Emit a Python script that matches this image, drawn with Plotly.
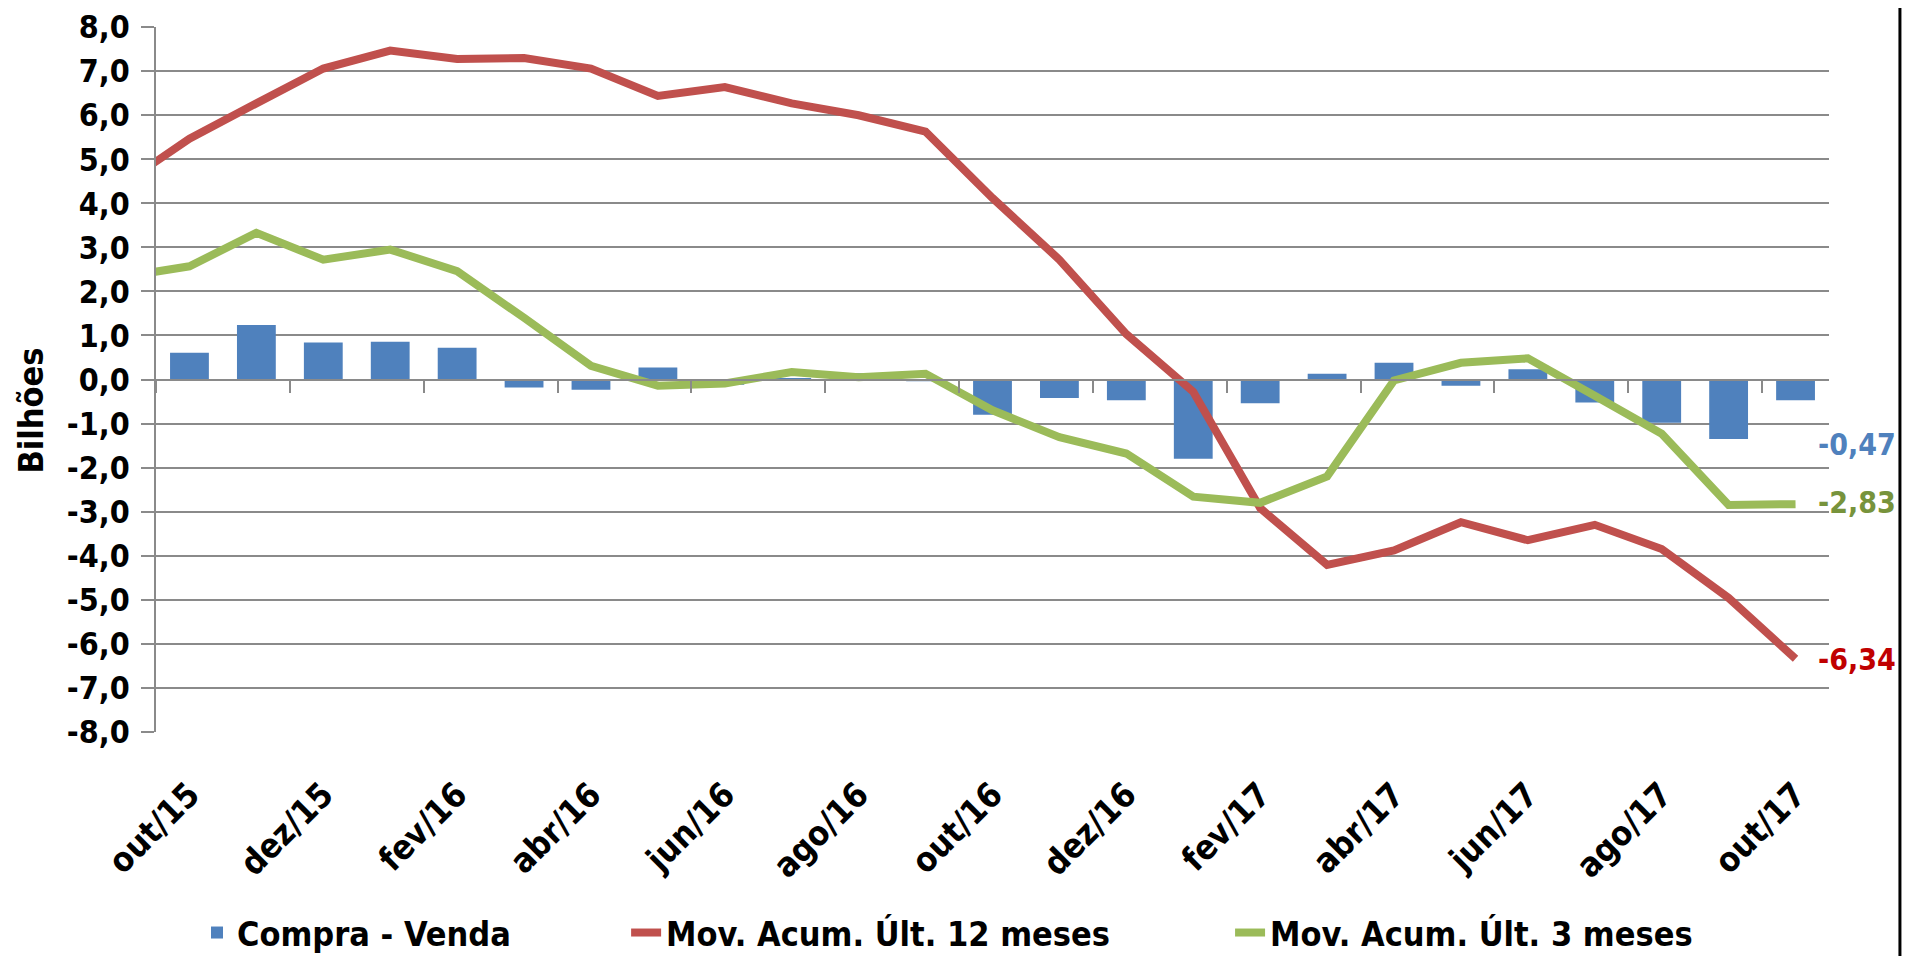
import plotly.graph_objects as go

# ---- data ----
months = ["set/15", "out/15", "nov/15", "dez/15", "jan/16", "fev/16", "mar/16", "abr/16",
          "mai/16", "jun/16", "jul/16", "ago/16", "set/16", "out/16", "nov/16", "dez/16",
          "jan/17", "fev/17", "mar/17", "abr/17", "mai/17", "jun/17", "jul/17", "ago/17",
          "set/17", "out/17"]
compra_venda = [None, 0.61, 1.24, 0.84, 0.86, 0.72, -0.18, -0.23, 0.27, -0.12, 0.03, 0.14,
                -0.04, -0.80, -0.42, -0.47, -1.80, -0.54, 0.13, 0.38, -0.14, 0.23, -0.52,
                -0.98, -1.35, -0.47]
mov12 = [4.43, 5.47, 6.27, 7.06, 7.47, 7.28, 7.30, 7.06, 6.44, 6.64, 6.27, 6.00, 5.63,
         4.12, 2.72, 1.03, -0.28, -2.92, -4.21, -3.88, -3.24, -3.65, -3.30, -3.85, -4.96, -6.34]
mov3 = [2.33, 2.57, 3.33, 2.72, 2.95, 2.46, 1.40, 0.31, -0.14, -0.09, 0.17, 0.05, 0.13,
        -0.70, -1.31, -1.68, -2.66, -2.80, -2.20, -0.02, 0.38, 0.48, -0.37, -1.23, -2.85, -2.83]
y_ticks = [-8, -7, -6, -5, -4, -3, -2, -1, 0, 1, 2, 3, 4, 5, 6, 7, 8]
y_ticktext = [f"{v:.1f}".replace(".", ",") for v in y_ticks]

names = ["Compra - Venda", "Mov. Acum. Últ. 12 meses", "Mov. Acum. Últ. 3 meses"]
colors = ["#4F81BD", "#C0504D", "#9BBB59"]
label_colors = ["#4F81BD", "#77933C", "#C00000"]

# positions: first month (set/15) lies just left of the visible range
pos = [i - 1 for i in range(len(months))]
n_vis = len(months) - 1
x_range = [-0.5, n_vis - 0.5]
y_range = [-8.004, 8.004]
label_pos = pos[1::2]
label_text = months[1::2]
boundary_ticks = [p - 0.5 for p in label_pos]

FONT = "DejaVu Sans Condensed, DejaVu Sans, sans-serif"
GRID = "#8A8A8A"

fig = go.Figure()
fig.add_trace(go.Bar(x=pos[1:], y=compra_venda[1:], name=names[0], marker_color=colors[0],
                     marker_line_width=0, xaxis="x", yaxis="y", legend="legend"))
fig.add_trace(go.Scatter(x=pos, y=mov12, name=names[1], mode="lines",
                         line=dict(color=colors[1], width=8), xaxis="x2", yaxis="y",
                         legend="legend2"))
fig.add_trace(go.Scatter(x=pos, y=mov3, name=names[2], mode="lines",
                         line=dict(color=colors[2], width=8), xaxis="x2", yaxis="y",
                         legend="legend3"))

# end-of-series labels
last_vals = [compra_venda[-1], mov3[-1], mov12[-1]]
yshifts = [-44, 2, -1]
for val, col, ys in zip(last_vals, [label_colors[0], label_colors[1], label_colors[2]], yshifts):
    fig.add_annotation(x=pos[-1], y=val, xref="x2", yref="y",
                       text=f"{val:.2f}".replace(".", ","), showarrow=False,
                       xanchor="left", yanchor="middle", xshift=20, yshift=ys,
                       font=dict(family=FONT, size=30, color=col, weight="bold"))

fig.add_annotation(x=-0.0753, y=0.456, xref="paper", yref="paper", text="Bilhões",
                   textangle=-90, showarrow=False, xanchor="center", yanchor="middle",
                   font=dict(family=FONT, size=34, color="black", weight="bold"))

# right frame line of the chart area
fig.add_shape(type="line", xref="paper", yref="paper", x0=1.0424, x1=1.0424, y0=-0.33, y1=1.03,
              line=dict(color="black", width=3), layer="above")

legend_common = dict(orientation="h", yanchor="middle", xanchor="left", y=-0.285,
                     bgcolor="rgba(0,0,0,0)", itemwidth=30,
                     font=dict(family=FONT, size=34, color="black", weight="bold"))

# page body adds an 8px offset, so the figure is 8px smaller on each axis
fig.update_layout(
    width=1904, height=948, autosize=False,
    margin=dict(l=148, r=83, t=19, b=224, autoexpand=False),
    plot_bgcolor="white", paper_bgcolor="white",
    bargap=0.42,
    showlegend=True,
    legend=dict(x=0.0245, **legend_common),
    legend2=dict(x=0.281, **legend_common),
    legend3=dict(x=0.642, **legend_common),
    xaxis=dict(range=x_range, anchor="free", position=0.5, showgrid=False, zeroline=False,
               showline=True, linecolor=GRID, linewidth=1.6,
               tickmode="array", tickvals=boundary_ticks, ticks="outside", ticklen=13,
               tickcolor=GRID, tickwidth=1.6, showticklabels=False, automargin=False),
    xaxis2=dict(range=x_range, overlaying="x", anchor="y", side="bottom", showgrid=False,
                zeroline=False, showline=False, tickmode="array", tickvals=label_pos,
                ticktext=label_text, tickangle=-45, ticks="outside", ticklen=28,
                tickcolor="rgba(0,0,0,0)", automargin=False, ticklabeloverflow="allow",
                tickfont=dict(family=FONT, size=34, color="black", weight="bold")),
    yaxis=dict(range=y_range, tickmode="array", tickvals=y_ticks, ticktext=y_ticktext,
               showgrid=True, gridcolor=GRID, gridwidth=1.6, zeroline=False,
               showline=True, linecolor=GRID, linewidth=1.6, ticks="outside", ticklen=13,
               tickcolor=GRID, tickwidth=1.6, ticklabelstandoff=5, automargin=False,
               ticklabeloverflow="allow",
               tickfont=dict(family=FONT, size=32, color="black", weight="bold")),
)

fig.write_html("out.html")
